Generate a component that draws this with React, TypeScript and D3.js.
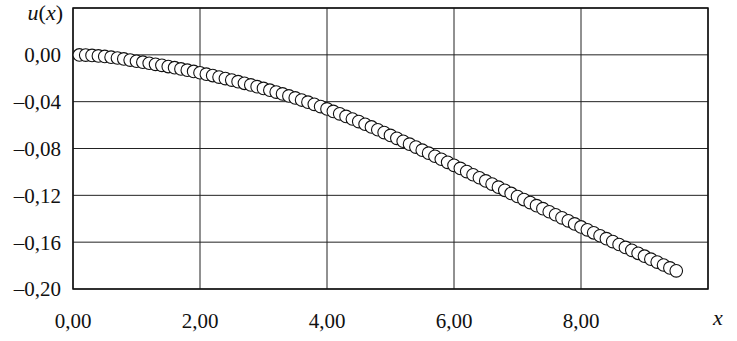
import * as d3 from "d3";

// x positions of the plotted points
const xs = [
  0.1, 0.2, 0.3, 0.4, 0.5, 0.6, 0.7, 0.8, 0.9, 1.0,
  1.1, 1.2, 1.3, 1.4, 1.5, 1.6, 1.7, 1.8, 1.9, 2.0,
  2.1, 2.2, 2.3, 2.4, 2.5, 2.6, 2.7, 2.8, 2.9, 3.0,
  3.1, 3.2, 3.3, 3.4, 3.5, 3.6, 3.7, 3.8, 3.9, 4.0,
  4.1, 4.2, 4.3, 4.4, 4.5, 4.6, 4.7, 4.8, 4.9, 5.0,
  5.1, 5.2, 5.3, 5.4, 5.5, 5.6, 5.7, 5.8, 5.9, 6.0,
  6.1, 6.2, 6.3, 6.4, 6.5, 6.6, 6.7, 6.8, 6.9, 7.0,
  7.1, 7.2, 7.3, 7.4, 7.5, 7.6, 7.7, 7.8, 7.9, 8.0,
  8.1, 8.2, 8.3, 8.4, 8.5, 8.6, 8.7, 8.8, 8.9, 9.0,
  9.1, 9.2, 9.3, 9.4, 9.5,
];

// u(x)
const us = [
  -0.0001, -0.0002, -0.0005, -0.0009, -0.0014, -0.002, -0.0027, -0.0035, -0.0045, -0.0055,
  -0.0063, -0.0072, -0.0081, -0.009, -0.01, -0.011, -0.012, -0.0131, -0.0142, -0.0153,
  -0.0165, -0.0177, -0.019, -0.0203, -0.0216, -0.0229, -0.0243, -0.0257, -0.0272, -0.0287,
  -0.0302, -0.0318, -0.0334, -0.0351, -0.0368, -0.0386, -0.0404, -0.0423, -0.0442, -0.0462,
  -0.0483, -0.0504, -0.0526, -0.0548, -0.057, -0.0593, -0.0616, -0.064, -0.0664, -0.0688,
  -0.0713, -0.0738, -0.0763, -0.0788, -0.0814, -0.084, -0.0866, -0.0892, -0.0918, -0.0944,
  -0.097, -0.0997, -0.1024, -0.105, -0.1077, -0.1104, -0.113, -0.1157, -0.1184, -0.121,
  -0.1236, -0.1262, -0.1288, -0.1314, -0.134, -0.1366, -0.1392, -0.1418, -0.1444, -0.147,
  -0.1495, -0.152, -0.1545, -0.157, -0.1595, -0.162, -0.1645, -0.167, -0.1695, -0.172,
  -0.1745, -0.177, -0.1795, -0.182, -0.1845,
];

const xGrid = [0, 2, 4, 6, 8, 10];
const xLabels = [0, 2, 4, 6, 8];
const yGrid = [0.04, 0, -0.04, -0.08, -0.12, -0.16, -0.2];
const yLabels = [0, -0.04, -0.08, -0.12, -0.16, -0.2];

const width = 737;
const height = 341;
const margin = { top: 8, right: 29, bottom: 52, left: 73 };

const fmt = (v: number) =>
  d3.format(".2f")(Math.abs(v) < 1e-9 ? 0 : v).replace(".", ",").replace("-", "\u2013").replace("\u2212", "\u2013");

export default function App() {
  const x = d3.scaleLinear().domain([0, 10]).range([margin.left, width - margin.right]);
  const y = d3.scaleLinear().domain([-0.2, 0.04]).range([height - margin.bottom, margin.top]);
  const txt = { fontFamily: "Liberation Serif, DejaVu Serif, serif", fontSize: "21px" };

  return (
    <div style={{ position: "absolute", left: 0, top: 0 }}>
      <svg width={width} height={height} style={{ display: "block", background: "#fff" }}>
        {xGrid.map((t) => (
          <line key={"vx" + t} x1={x(t)} x2={x(t)} y1={y(0.04)} y2={y(-0.2)} stroke="#222" strokeWidth={1} />
        ))}
        {yGrid.map((t) => (
          <line key={"hy" + t} x1={x(0)} x2={x(10)} y1={y(t)} y2={y(t)} stroke="#222" strokeWidth={1} />
        ))}
        <rect
          x={x(0)}
          y={y(0.04)}
          width={x(10) - x(0)}
          height={y(-0.2) - y(0.04)}
          fill="none"
          stroke="#111"
          strokeWidth={1.5}
        />

        {yLabels.map((t) => (
          <text key={"yl" + t} x={61} y={y(t)} dy="0.35em" textAnchor="end" style={txt} fill="#111">
            {fmt(t)}
          </text>
        ))}
        {xLabels.map((t) => (
          <text key={"xl" + t} x={x(t)} y={328} textAnchor="middle" style={txt} fill="#111">
            {fmt(t)}
          </text>
        ))}

        <text x={718} y={325} textAnchor="middle" style={{ ...txt, fontSize: "22px", fontStyle: "italic" }} fill="#111">
          x
        </text>
        <text x={63} y={20} textAnchor="end" style={{ ...txt, fontSize: "22px" }} fill="#111">
          <tspan fontStyle="italic">u</tspan>(<tspan fontStyle="italic">x</tspan>)
        </text>

        {xs.map((xv, i) => (
          <circle key={i} cx={x(xv)} cy={y(us[i])} r={6.3} fill="#fff" stroke="#111" strokeWidth={1.1} />
        ))}
      </svg>
    </div>
  );
}
